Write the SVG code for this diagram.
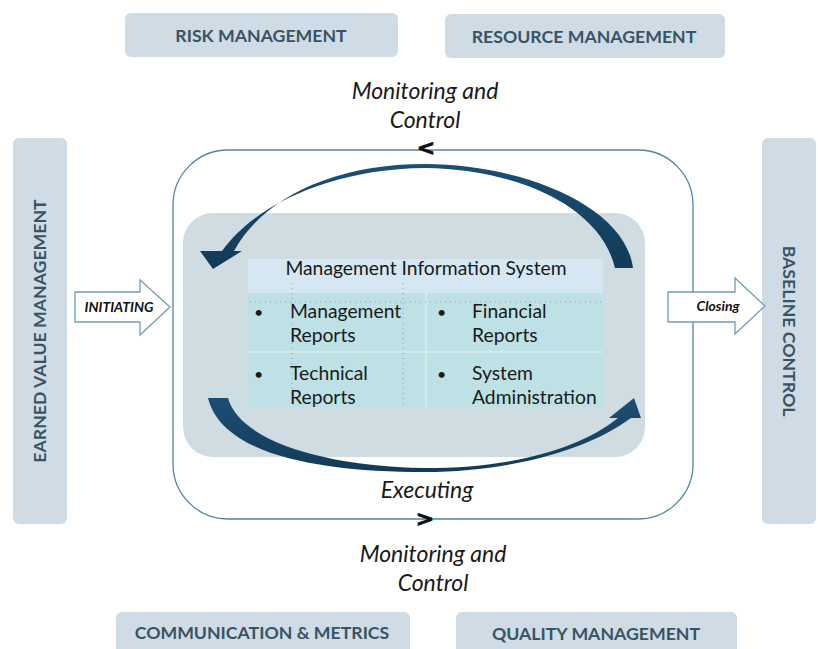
<svg xmlns="http://www.w3.org/2000/svg" width="818" height="649" viewBox="0 0 818 649">
<defs>
<style>
.box{fill:#cfdbe5}
.lbl{font-family:Lato,"Open Sans","Liberation Sans",sans-serif;font-weight:bold;font-size:17.7px;fill:#385464;text-anchor:middle}
.it{font-family:Lato,"Open Sans","Liberation Sans",sans-serif;font-style:italic;font-size:23px;fill:#1a1a1a;text-anchor:middle}
.cell{font-family:Lato,"Open Sans","Liberation Sans",sans-serif;font-size:19.3px;fill:#1a1a1a}
.blt{font-family:Lato,"Open Sans","Liberation Sans",sans-serif;font-size:16px;fill:#1a1a1a}
.blk{fill:#fff;stroke:#6f9db8;stroke-width:1.3}
.blab{font-family:Lato,"Open Sans","Liberation Sans",sans-serif;font-style:italic;font-weight:bold;font-size:14px;fill:#111;text-anchor:middle}
.dot{stroke:#8a9aa0;stroke-width:1;stroke-dasharray:1 4;fill:none}
.chev{font-family:"DejaVu Sans",Lato,sans-serif;font-weight:bold;font-size:22px;fill:#111;stroke:#111;stroke-width:0.8;text-anchor:middle}
</style>
<linearGradient id="arc" x1="0" y1="0" x2="0" y2="1">
<stop offset="0" stop-color="#1d4f72"/>
<stop offset="1" stop-color="#123a58"/>
</linearGradient>
</defs>
<g id="risk"><rect class="box" x="125" y="13" width="273" height="44" rx="6"/><text class="lbl" x="261" y="42">RISK MANAGEMENT</text></g>
<g id="resource"><rect class="box" x="445" y="14" width="280" height="44" rx="6"/><text class="lbl" x="584" y="43">RESOURCE MANAGEMENT</text></g>
<g id="comm"><rect class="box" x="116" y="612" width="294" height="50" rx="6"/><text class="lbl" x="262" y="639">COMMUNICATION &amp; METRICS</text></g>
<g id="quality"><rect class="box" x="456" y="612" width="281" height="50" rx="6"/><text class="lbl" x="596" y="640">QUALITY MANAGEMENT</text></g>
<g id="evm"><rect class="box" x="13" y="138" width="54" height="386" rx="6"/><text class="lbl" transform="translate(46,331) rotate(-90)">EARNED VALUE MANAGEMENT</text></g>
<g id="baseline"><rect class="box" x="762" y="138" width="54" height="386" rx="6"/><text class="lbl" transform="translate(783,331) rotate(90)">BASELINE CONTROL</text></g>

<g id="cycle">
<rect x="173" y="150" width="520" height="369" rx="55" fill="#fff" stroke="#4f86a2" stroke-width="1.3"/>
<rect x="183" y="213" width="462" height="244" rx="30" fill="#cfdde3"/>
<text class="it" x="425" y="99">Monitoring and</text>
<text class="it" x="425" y="128">Control</text>
<text class="chev" x="426" y="155">&lt;</text>
<text class="it" x="427" y="498">Executing</text>
<text class="chev" x="425" y="526">&gt;</text>
<text class="it" x="433" y="562">Monitoring and</text>
<text class="it" x="433" y="591">Control</text>
</g>

<g id="mis">
<rect x="248" y="259" width="355" height="34" fill="#d4e7f3"/>
<rect x="248" y="293" width="355" height="114" fill="#bde1e4"/>
<line x1="248" y1="352" x2="603" y2="352" stroke="#e4f3f4" stroke-width="1.2"/>
<line x1="426" y1="293" x2="426" y2="407" stroke="#e4f3f4" stroke-width="1.2"/>
<line class="dot" x1="250" y1="302" x2="603" y2="302"/>
<line class="dot" x1="292" y1="283" x2="292" y2="407"/>
<line class="dot" x1="403" y1="283" x2="403" y2="407"/>
<text class="cell" x="426" y="275" text-anchor="middle">Management Information System</text>
<text class="blt" x="254" y="318">•</text>
<text class="cell" x="290" y="318">Management</text>
<text class="cell" x="290" y="342">Reports</text>
<text class="blt" x="254" y="380">•</text>
<text class="cell" x="290" y="380">Technical</text>
<text class="cell" x="290" y="404">Reports</text>
<text class="blt" x="437" y="318">•</text>
<text class="cell" x="472" y="318">Financial</text>
<text class="cell" x="472" y="342">Reports</text>
<text class="blt" x="437" y="380">•</text>
<text class="cell" x="472" y="380">System</text>
<text class="cell" x="472" y="404">Administration</text>
</g>

<g id="connectors">
<path fill="url(#arc)" d="M633,268 C625,205 520,164 425,164 C330,164 262,200 234,251 L242,251 L213,269 L200,251 L222,251 C255,205 330,169 425,168 C515,169 600,205 615,268 Z"/>
<path fill="url(#arc)" d="M208,398 L228,398 C240,440 320,466 425,468 C510,468 578,450 618,418 L609,418 L634,398 L641,418 L631,418 C585,452 505,472 425,472 C320,472 222,455 208,398 Z"/>
<g id="initiating"><path class="blk" d="M75,292 H140 V280 L170,307 L140,335 V322 H75 Z"/><text class="blab" x="119" y="312">INITIATING</text></g>
<g id="closing"><path class="blk" d="M668,292 H735 V278 L765,306 L735,334 V322 H668 Z"/><text class="blab" x="718" y="311">Closing</text></g>
</g>
</svg>
